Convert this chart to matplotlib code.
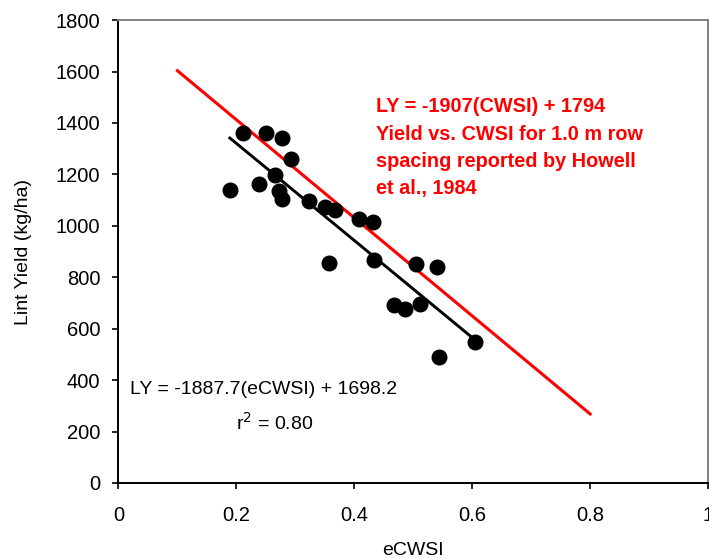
import numpy as np
import matplotlib
matplotlib.use('Agg')
import matplotlib.pyplot as plt

plt.rcParams['font.family'] = ['Liberation Sans', 'DejaVu Sans']

# measured eCWSI vs lint yield
ecwsi = [0.189, 0.212, 0.238, 0.250, 0.277, 0.266, 0.272, 0.277, 0.292, 0.323,
         0.351, 0.367, 0.357, 0.408, 0.431, 0.434, 0.468, 0.486, 0.504, 0.511,
         0.540, 0.543, 0.604]
lint_yield = [1139, 1360, 1161, 1361, 1340, 1198, 1136, 1103, 1259, 1098,
              1074, 1060, 854, 1026, 1016, 866, 693, 675, 853, 695,
              841, 491, 549]

# regression fit (this study) and Howell et al. 1984
fit_slope, fit_icpt = -1887.7, 1698.2
howell_slope, howell_icpt = -1907, 1794
howell_x = [0.1, 0.8]

xticks = [0, 0.2, 0.4, 0.6, 0.8, 1]
xticklabels = ['0', '0.2', '0.4', '0.6', '0.8', '1']
yticks = list(range(0, 1801, 200))

fig = plt.figure(figsize=(7.09, 5.59), dpi=100)
ax = fig.add_axes([0.1671, 0.136, 0.8315, 0.828])

ax.plot(ecwsi, lint_yield, 'o', color='black', markersize=10.5, zorder=3)

fx = np.array([min(ecwsi), max(ecwsi)])
ax.plot(fx, fit_slope * fx + fit_icpt, color='black', lw=2.1, zorder=2)

hx = np.array(howell_x)
ax.plot(hx, howell_slope * hx + howell_icpt, color='#ff0000', lw=2.2, zorder=2)

ax.text(0.437, 1500, 'LY = -1907(CWSI) + 1794\nYield vs. CWSI for 1.0 m row\n'
        'spacing reported by Howell\net al., 1984',
        color='#ff0000', fontsize=14.3, fontweight='bold', va='top', ha='left',
        linespacing=1.56)
ax.text(0.02, 365, 'LY = -1887.7(eCWSI) + 1698.2', fontsize=14,
        va='center', ha='left')
ax.text(0.2, 233, 'r$^2$ = 0.80', fontsize=14, va='center', ha='left')

ax.set_xlim(0, 1)
ax.set_ylim(0, 1800)
ax.set_xticks(xticks)
ax.set_xticklabels(xticklabels)
ax.set_yticks(yticks)
ax.tick_params(direction='out', length=4.5, width=1.2, labelsize=14.5, pad=8.5)
ax.tick_params(axis='x', pad=12)

for s in ['left', 'bottom']:
    ax.spines[s].set_color('black')
    ax.spines[s].set_linewidth(1.4)
for s in ['top', 'right']:
    ax.spines[s].set_color('#808080')
    ax.spines[s].set_linewidth(1.4)

ax.set_xlabel('eCWSI', fontsize=14, labelpad=12)
ax.set_ylabel('Lint Yield (kg/ha)', fontsize=14, labelpad=17)

fig.savefig('out.png', dpi=100)
